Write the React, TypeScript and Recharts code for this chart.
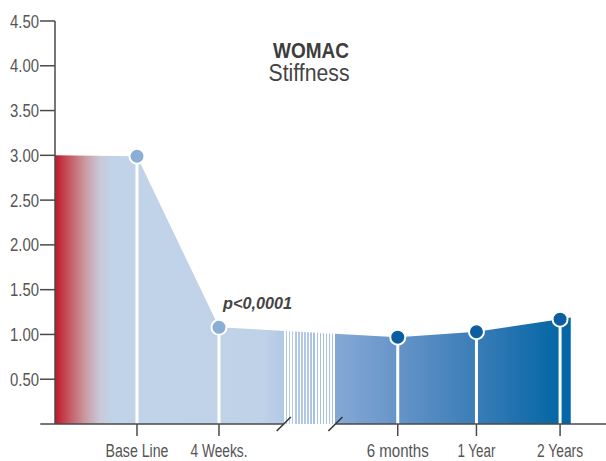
import React from 'react';
import { ComposedChart, Area, Line, XAxis, YAxis, ReferenceLine } from 'recharts';

// ---- data ----
const categories = ['Base Line', '4 Weeks.', '6 months', '1 Year', '2 Years'];
const slotPositions = [0, 1, 3.18, 4.14, 5.16];
const stiffness = [2.99, 1.08, 0.97, 1.03, 1.17];
const areaStart = { x: -1, v: 3.0 };
const areaEnd = { x: 5.29, v: 1.19 };
const breakRange = [1.79, 2.42];
const yTicks = [0.5, 1, 1.5, 2, 2.5, 3, 3.5, 4, 4.5];
const xDomain = [-1, 5.72];
const axisLeftExtent = -1.18;
const pValueLabel = 'p<0,0001';
const titleMain = 'WOMAC';
const titleSub = 'Stiffness';

// ---- styles ----
const FONT = "'Liberation Sans', Arial, sans-serif";
const AXIS = '#4a4a4a';
const TEXT = '#555555';
const pointColors = ['#8aaed6', '#8aaed6', '#0b5fa0', '#0b5fa0', '#0b5fa0'];
// rendered widths of the condensed labels (style only)
const xLabelWidths: Record<string, number> = {
  'Base Line': 63,
  '4 Weeks.': 57,
  '6 months': 62,
  '1 Year': 38,
  '2 Years': 46,
};
const yLabelWidth = 29;

const rows = [
  { x: areaStart.x, area: areaStart.v, pt: null as number | null, idx: -1 },
  ...categories.map((c, i) => ({ x: slotPositions[i], area: stiffness[i], pt: stiffness[i], idx: i })),
  { x: areaEnd.x, area: areaEnd.v, pt: null as number | null, idx: -1 },
];

const span = areaEnd.x - areaStart.x;
const off = (u: number) => Math.max(0, Math.min(1, (u - areaStart.x) / span));

function buildStops() {
  const stops: { o: number; c: string }[] = [
    { o: off(-1), c: '#c1182b' },
    { o: off(-0.82), c: '#c65a64' },
    { o: off(-0.63), c: '#cb9ba2' },
    { o: off(-0.45), c: '#c7c9d9' },
    { o: off(-0.3), c: '#c0d3e8' },
    { o: off(1.52), c: '#bfd2e8' },
    { o: off(breakRange[0]), c: '#b2c9e5' },
  ];
  const [b0, b1] = breakRange;
  const n = 17;
  const step = (b1 - b0) / n;
  for (let i = 0; i < n; i++) {
    const a = b0 + i * step;
    const w = step * 0.58;
    const blue = i < n / 2 ? '#b2c9e5' : '#a7c2e2';
    stops.push({ o: off(a), c: blue });
    stops.push({ o: off(a + step * 0.2), c: blue });
    stops.push({ o: off(a + step * 0.2), c: '#ffffff' });
    stops.push({ o: off(a + step * 0.2 + w), c: '#ffffff' });
    stops.push({ o: off(a + step * 0.2 + w), c: blue });
  }
  stops.push({ o: off(b1), c: '#a7c2e2' });
  stops.push({ o: off(b1), c: '#85a9d5' });
  stops.push({ o: off(3.18), c: '#6694c8' });
  stops.push({ o: off(4.14), c: '#3a7db7' });
  stops.push({ o: off(5.0), c: '#0c69a8' });
  stops.push({ o: off(areaEnd.x), c: '#0066a6' });
  return stops;
}

const renderDot = (props: any) => {
  const { cx, cy, payload, index } = props;
  if (cx == null || cy == null || payload == null || payload.pt == null) {
    return <g key={`d-${index}`} />;
  }
  return (
    <circle
      key={`d-${index}`}
      cx={cx}
      cy={cy}
      r={7.5}
      fill={pointColors[payload.idx]}
      stroke="#ffffff"
      strokeWidth={2}
    />
  );
};

const XTick = (props: any) => {
  const { x, y, payload } = props;
  const i = slotPositions.indexOf(payload.value);
  const label = i >= 0 ? categories[i] : '';
  return (
    <text
      x={x}
      y={y}
      dy={12}
      textAnchor="middle"
      fill={TEXT}
      fontSize={18}
      fontFamily={FONT}
      textLength={xLabelWidths[label]}
      lengthAdjust="spacingAndGlyphs"
    >
      {label}
    </text>
  );
};

const YTick = (props: any) => {
  const { x, y, payload } = props;
  return (
    <text
      x={x}
      y={y}
      dy={6.5}
      textAnchor="end"
      fill={TEXT}
      fontSize={19}
      fontFamily={FONT}
      textLength={yLabelWidth}
      lengthAdjust="spacingAndGlyphs"
    >
      {Number(payload.value).toFixed(2)}
    </text>
  );
};

export default function App() {
  const stops = buildStops();
  const slashDy = 0.078;
  const slashDx = 0.086;
  return (
    <div style={{ position: 'absolute', left: 0, top: 0, width: 606, height: 461 }}>
      <ComposedChart
        width={606}
        height={461}
        data={rows}
        margin={{ top: 21, right: 0, bottom: 0, left: 0 }}
      >
        <defs>
          <linearGradient id="areaGrad" x1="0" y1="0" x2="1" y2="0">
            {stops.map((s, i) => (
              <stop key={i} offset={s.o} stopColor={s.c} />
            ))}
          </linearGradient>
        </defs>
        <XAxis
          dataKey="x"
          type="number"
          domain={xDomain}
          ticks={slotPositions}
          allowDataOverflow
          axisLine={false}
          tickLine={{ stroke: AXIS, strokeWidth: 1.5 }}
          tickSize={12}
          tickMargin={9}
          height={37}
          tick={<XTick />}
          interval={0}
        />
        <YAxis
          type="number"
          domain={[0, 4.5]}
          ticks={yTicks}
          width={55}
          axisLine={{ stroke: AXIS, strokeWidth: 1.5 }}
          tickLine={{ stroke: AXIS, strokeWidth: 1.5 }}
          tickSize={15}
          tickMargin={1}
          tick={<YTick />}
          interval={0}
          allowDataOverflow
        />
        <Area
          type="linear"
          dataKey="area"
          stroke="none"
          fill="url(#areaGrad)"
          fillOpacity={1}
          isAnimationActive={false}
          dot={false}
          activeDot={false}
        />
        {slotPositions.map((p, i) => (
          <ReferenceLine
            key={`drop-${i}`}
            segment={[{ x: p, y: 0 }, { x: p, y: stiffness[i] }]}
            stroke="#ffffff"
            strokeWidth={3}
            ifOverflow="visible"
          />
        ))}
        <ReferenceLine
          segment={[{ x: axisLeftExtent, y: 0 }, { x: breakRange[0], y: 0 }]}
          stroke={AXIS}
          strokeWidth={1.5}
          ifOverflow="visible"
        />
        <ReferenceLine
          segment={[{ x: breakRange[1], y: 0 }, { x: xDomain[1], y: 0 }]}
          stroke={AXIS}
          strokeWidth={1.5}
          ifOverflow="visible"
        />
        {breakRange.map((b, i) => (
          <ReferenceLine
            key={`slash-${i}`}
            segment={[{ x: b - slashDx, y: -slashDy }, { x: b + slashDx, y: slashDy }]}
            stroke="#333333"
            strokeWidth={1.5}
            ifOverflow="visible"
          />
        ))}
        <Line
          type="linear"
          dataKey="pt"
          stroke="none"
          dot={renderDot}
          activeDot={false}
          isAnimationActive={false}
          connectNulls
        />
      </ComposedChart>
      <svg
        width={606}
        height={461}
        style={{ position: 'absolute', left: 0, top: 0, pointerEvents: 'none' }}
      >
        <text
          x={311}
          y={58}
          textAnchor="middle"
          fontFamily={FONT}
          fontWeight="bold"
          fontSize={22.5}
          fill="#3d3d3d"
          textLength={76}
          lengthAdjust="spacingAndGlyphs"
        >
          {titleMain}
        </text>
        <text
          x={309}
          y={81}
          textAnchor="middle"
          fontFamily={FONT}
          fontSize={23}
          fill="#444444"
          textLength={81}
          lengthAdjust="spacingAndGlyphs"
        >
          {titleSub}
        </text>
        <text
          x={223}
          y={309}
          fontFamily={FONT}
          fontWeight="bold"
          fontStyle="italic"
          fontSize={17}
          fill="#444444"
          textLength={69}
          lengthAdjust="spacingAndGlyphs"
        >
          {pValueLabel}
        </text>
      </svg>
    </div>
  );
}
